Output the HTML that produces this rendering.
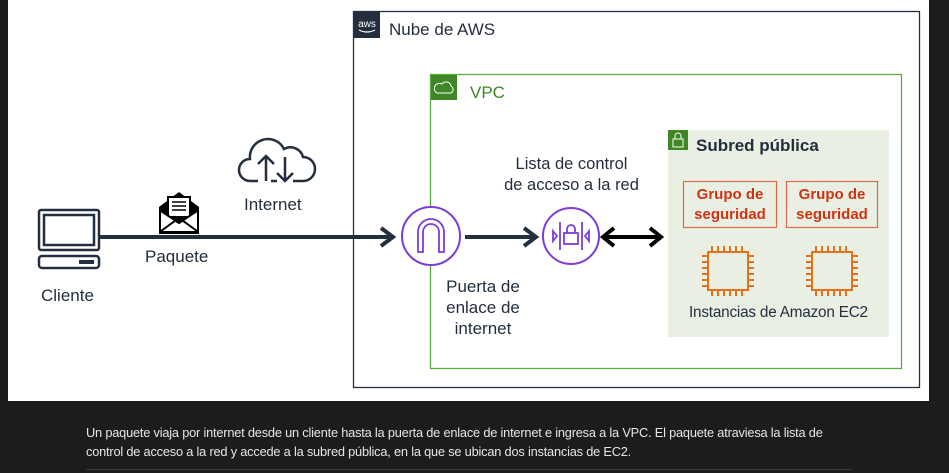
<!DOCTYPE html>
<html><head><meta charset="utf-8"><style>
body{margin:0;width:949px;height:473px;background:#1b1c1e;position:relative;overflow:hidden;font-family:"Liberation Sans",sans-serif}
.w{position:absolute;left:8px;top:0;width:921px;height:401px;background:#fff}
.t{position:absolute;color:#232f3e;font-size:17px;text-align:center;line-height:21px;white-space:nowrap}
.cap{position:absolute;left:86px;top:423px;color:#e6e6e6;font-size:12.8px;line-height:19px;letter-spacing:-0.2px}
</style></head><body>
<div class="w"></div>
<svg width="949" height="473" style="position:absolute;left:0;top:0">
<rect x="353.5" y="11.5" width="566" height="376" fill="none" stroke="#232f3e" stroke-width="1.3"/>
<rect x="354" y="12" width="26" height="26" fill="#232f3e"/>
<text x="367" y="27" fill="#fff" font-size="10" text-anchor="middle" font-family="Liberation Sans">aws</text>
<path d="M359 30 q8 4 16 0" stroke="#fff" fill="none" stroke-width="1.2"/>
<rect x="430.5" y="74.5" width="471" height="294" fill="none" stroke="#5aad3a" stroke-width="1.3"/>
<rect x="431" y="75" width="26" height="25" fill="#3f8624"/>
<path d="M437 93 h14 a4 4 0 0 0 0-7 a5 5 0 0 0-9-2 a4 4 0 0 0-5 9z" fill="none" stroke="#fff" stroke-width="1"/>
<rect x="668" y="130" width="221" height="207" fill="#e9f0e3"/>
<rect x="668" y="130" width="20" height="20" fill="#3f8624"/>
<rect x="673" y="139" width="10" height="8" fill="none" stroke="#fff"/>
<path d="M675 139 v-3 a3 3 0 0 1 6 0 v3" fill="none" stroke="#fff"/>
<rect x="683.5" y="181.5" width="93" height="46" fill="none" stroke="#e0684a" stroke-width="1.2"/>
<rect x="786.5" y="181.5" width="91" height="46" fill="none" stroke="#e0684a" stroke-width="1.2"/>
<g fill="none" stroke="#e7711b" stroke-width="2">
<rect x="708" y="252" width="40" height="38"/><rect x="812" y="252" width="40" height="38"/>
<path d="M712 252v-6M718 252v-6M724 252v-6M730 252v-6M736 252v-6M742 252v-6M712 290v6M718 290v6M724 290v6M730 290v6M736 290v6M742 290v6M708 256h-6M708 262h-6M708 268h-6M708 274h-6M708 280h-6M708 286h-6M748 256h6M748 262h6M748 268h6M748 274h6M748 280h6M748 286h6"/>
<path d="M816 252v-6M822 252v-6M828 252v-6M834 252v-6M840 252v-6M846 252v-6M816 290v6M822 290v6M828 290v6M834 290v6M840 290v6M846 290v6M812 256h-6M812 262h-6M812 268h-6M812 274h-6M812 280h-6M812 286h-6M852 256h6M852 262h6M852 268h6M852 274h6M852 280h6M852 286h6"/>
</g>
<g stroke="#232f3e" stroke-width="4" fill="none">
<line x1="100" y1="237" x2="394" y2="237"/><path d="M381 228 l12 9 l-12 9"/>
<line x1="465" y1="237" x2="536" y2="237"/><path d="M524 228 l12 9 l-12 9"/>
</g>
<g stroke="#000" stroke-width="4" fill="none">
<line x1="603" y1="237" x2="661" y2="237"/><path d="M614 228 l-11 9 l11 9M650 228 l11 9 l-11 9"/>
</g>
<circle cx="431" cy="236" r="29" fill="#fff" stroke="#7d3cdb" stroke-width="2"/>
<path d="M418 252 v-20 a13 13 0 0 1 26 0 v20 h-5 v-20 a8 8 0 0 0-16 0 v20z" fill="none" stroke="#7d3cdb" stroke-width="1.8"/>
<circle cx="571" cy="236" r="28" fill="#fff" stroke="#7d3cdb" stroke-width="2"/>
<g stroke="#7d3cdb" stroke-width="1.8" fill="none"><line x1="560" y1="222" x2="560" y2="250"/><line x1="582" y1="222" x2="582" y2="250"/><rect x="564" y="233" width="14" height="11"/><path d="M567 233v-4a4 4 0 0 1 8 0v4"/><path d="M553 231l4 5l-4 5zM589 231l-4 5l4 5z"/></g>
<g fill="none" stroke="#232f3e" stroke-width="2.5"><rect x="39" y="210" width="60" height="40" rx="2"/><rect x="44" y="215" width="50" height="30"/><rect x="39" y="256" width="60" height="12" rx="3"/></g>
<rect x="79" y="260" width="15" height="4" fill="#232f3e"/>
<path d="M159 207 l20-15 l20 15 v27 h-40z" fill="#000"/>
<rect x="168" y="197" width="22" height="20" fill="#fff" stroke="#000" stroke-width="2"/>
<path d="M172 202h14M172 206h14M172 210h14" stroke="#000" stroke-width="1.5"/>
<path d="M161 211 l18 12 l18-12 v20 h-36z" fill="#fff"/><path d="M161 231 l18-13 l18 13M161 211 l18 12 l18-12" stroke="#000" stroke-width="2" fill="none"/>
<path d="M250 181 a11 11 0 0 1 0-22 a18 18 0 0 1 34-10 a13 13 0 0 1 19 8 a12 12 0 0 1 0 24 h-10 M277 181 h-6 M258 181h-8" fill="none" stroke="#232f3e" stroke-width="2.5"/>
<path d="M266 181 v-25 M258 164 l8-8 l8 8 M285 157 v24 M277 173 l8 8 l8-8" fill="none" stroke="#232f3e" stroke-width="2.5"/>
</svg>
<div class="t" style="left:389px;top:19px">Nube de AWS</div>
<div class="t" style="left:470px;top:82px;color:#3f8624">VPC</div>
<div class="t" style="left:696px;top:135px;font-weight:bold">Subred pública</div>
<div class="t" style="left:244px;top:194px">Internet</div>
<div class="t" style="left:145px;top:246px">Paquete</div>
<div class="t" style="left:41px;top:285px">Cliente</div>
<div class="t" style="left:499px;top:154px;width:145px;font-size:16.5px">Lista de control<br>de acceso a la red</div>
<div class="t" style="left:433px;top:276px;width:100px">Puerta de<br>enlace de<br>internet</div>
<div class="t" style="left:683px;top:185px;width:94px;color:#d13212;font-weight:bold;font-size:15px;line-height:20px">Grupo de<br>seguridad</div>
<div class="t" style="left:786px;top:185px;width:92px;color:#d13212;font-weight:bold;font-size:15px;line-height:20px">Grupo de<br>seguridad</div>
<div class="t" style="left:689px;top:302px;font-size:15.3px;letter-spacing:-0.2px">Instancias de Amazon EC2</div>
<div class="cap">Un paquete viaja por internet desde un cliente hasta la puerta de enlace de internet e ingresa a la VPC. El paquete atraviesa la lista de<br>control de acceso a la red y accede a la subred pública, en la que se ubican dos instancias de EC2.</div>
<div style="position:absolute;left:86px;top:469px;width:766px;height:1px;background:#3a3b3d"></div>
</body></html>
